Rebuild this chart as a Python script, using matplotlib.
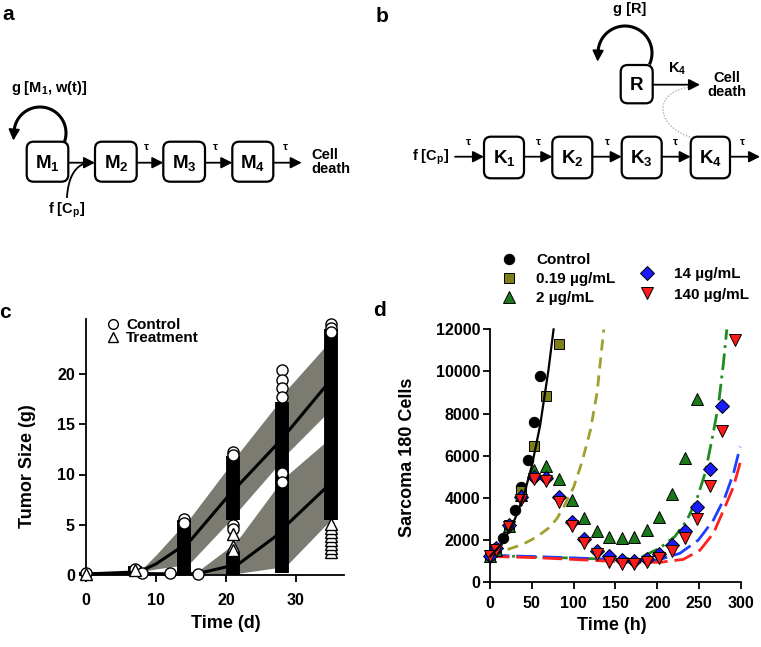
import numpy as np
import matplotlib
matplotlib.use('Agg')
import matplotlib.pyplot as plt
from matplotlib.patches import FancyBboxPatch
from matplotlib.lines import Line2D

plt.rcParams['font.family'] = ['Liberation Sans', 'DejaVu Sans']
plt.rcParams['font.weight'] = 'bold'
plt.rcParams['axes.labelweight'] = 'bold'
plt.rcParams['mathtext.fontset'] = 'custom'
plt.rcParams['mathtext.rm'] = 'Liberation Sans:bold'
plt.rcParams['mathtext.it'] = 'Liberation Sans:bold'
plt.rcParams['mathtext.bf'] = 'Liberation Sans:bold'

# ---------------- data: panel c ----------------
c_xticks = [0, 10, 20, 30]
c_yticks = [0, 5, 10, 15, 20]
ctrl_band_t = [7, 8, 10, 13, 15, 20, 22, 27, 29, 34, 35]
ctrl_med = [0.3, 0.45, 1.1, 2.5, 3.5, 7.6, 9.1, 12.8, 14.4, 18.6, 19.3]
ctrl_hi = [0.3, 0.6, 2.0, 4.3, 5.8, 10.4, 12.3, 16.7, 18.7, 22.6, 23.1]
ctrl_lo = [0.3, 0.35, 0.6, 0.9, 1.3, 5.0, 6.6, 10.6, 12.3, 15.8, 16.3]
ctrl_early_t = [0, 7]
ctrl_early_y = [0.1, 0.3]
trt_band_t = [14, 16, 20, 22, 27, 29, 34, 35]
trt_med = [0.1, 0.15, 0.8, 1.2, 3.8, 5.2, 8.5, 9.2]
trt_hi = [0.1, 0.4, 2.5, 3.8, 8.5, 10.1, 13.1, 13.8]
trt_lo = [0.1, 0.05, 0.1, 0.2, 0.7, 1.2, 4.8, 5.4]
trt_early_t = [0, 7, 14]
trt_early_y = [0.1, 0.15, 0.1]

col_days = [0, 7, 14, 21, 28, 35]
ctrl_col_lo = [0.0, 0.1, 0.1, 5.5, 9.5, 14.0]
ctrl_col_hi = [0.3, 0.9, 5.5, 11.8, 17.2, 24.5]
trt_col_lo = [0.0, 0.1, 0.0, 0.0, 0.2, 5.5]
trt_col_hi = [0.3, 0.8, 0.5, 2.2, 9.5, 14.0]
ctrl_out_t = [0, 7, 8, 12, 14, 14, 16, 21, 21, 21, 21, 28, 28, 28, 28, 28, 28, 35, 35, 35]
ctrl_out_y = [0.2, 0.6, 0.2, 0.2, 5.6, 5.2, 0.1, 12.2, 11.9, 5.0, 4.6, 20.4, 19.4, 18.6, 17.7, 10.1, 9.3, 25.0, 24.6, 24.2]
trt_out_t = [0, 7, 21, 21, 21, 35, 35, 35, 35, 35, 35, 35, 35]
trt_out_y = [0.1, 0.5, 4.1, 2.9, 2.5, 2.3, 2.7, 3.1, 3.5, 3.9, 4.3, 4.7, 5.1]

# ---------------- data: panel d ----------------
d_xticks = [0, 50, 100, 150, 200, 250, 300]
d_yticks = [0, 2000, 4000, 6000, 8000, 10000, 12000]
d_labels = ['Control', '0.19 \u00b5g/mL', '2 \u00b5g/mL', '14 \u00b5g/mL', '140 \u00b5g/mL']
ctrl_t = [0, 7.5, 15, 22.5, 30, 37.5, 45, 52.5, 60]
ctrl_y = [1200, 1600, 2100, 2650, 3400, 4500, 5800, 7600, 9800]
sq_t = [0, 7.5, 22.5, 37.5, 52.5, 67.5, 82.5]
sq_y = [1200, 1500, 2700, 4300, 6450, 8850, 11300]
tri_t = [0, 7.5, 22.5, 37.5, 52.5, 67.5, 82.5, 97.5, 112.5, 127.5, 142.5, 157.5,
         172.5, 187.5, 202.5, 217.5, 232.5, 247.5]
tri_y = [1200, 1500, 2650, 4100, 5300, 5500, 4870, 3890, 3015, 2420, 2140, 2060,
         2140, 2480, 3090, 4170, 5900, 8680]
dia_t = [0, 7.5, 22.5, 37.5, 52.5, 67.5, 82.5, 97.5, 112.5, 127.5, 142.5, 157.5,
         172.5, 187.5, 202.5, 217.5, 232.5, 247.5, 262.5, 277.5]
dia_y = [1200, 1600, 2700, 4050, 5000, 4950, 4040, 2860, 2030, 1480, 1200, 1050,
         1000, 1060, 1300, 1730, 2420, 3560, 5350, 8380]
inv_t = [0, 7.5, 22.5, 37.5, 52.5, 67.5, 82.5, 97.5, 112.5, 127.5, 142.5, 157.5,
         172.5, 187.5, 202.5, 217.5, 232.5, 247.5, 262.5, 277.5, 292.5]
inv_y = [1200, 1500, 2600, 3900, 4900, 4800, 3800, 2650, 1850, 1300, 950, 850,
         850, 920, 1110, 1450, 2070, 3000, 4550, 7150, 11500]
fit_ctrl_t = [0, 10, 20, 30, 40, 50, 60, 70, 76]
fit_ctrl_y = [1200, 1620, 2200, 3000, 4050, 5500, 7450, 10100, 12000]
fit_sq_t = [0, 10, 20, 30, 40, 50, 60, 70, 80, 90, 100, 110, 120, 128, 136]
fit_sq_y = [1350, 1420, 1520, 1650, 1800, 2000, 2250, 2550, 3000, 3700, 4500, 5700, 7200, 9000, 12000]
fit_tri_t = [0, 50, 100, 150, 180, 203, 221, 235, 247, 257, 265, 273, 279, 283]
fit_tri_y = [1250, 1180, 1120, 1060, 1150, 1600, 2150, 2900, 3900, 5150, 6700, 8400, 10400, 12000]
fit_dia_t = [0, 50, 100, 150, 200, 227, 249, 267, 281, 291, 299]
fit_dia_y = [1250, 1200, 1130, 1060, 1020, 1350, 1980, 2930, 4040, 5150, 6420]
fit_inv_t = [0, 50, 100, 150, 203, 231, 251, 267, 281, 291, 300]
fit_inv_y = [1200, 1150, 1060, 960, 920, 1060, 1500, 2300, 3570, 4520, 5800]

W, H = 761, 647
fig = plt.figure(figsize=(W / 100, H / 100), dpi=100)


def rect(x0, y0, x1, y1):
    return [x0 / W, 1 - y1 / H, (x1 - x0) / W, (y1 - y0) / H]


# ---------------- overlay for diagrams ----------------
ax0 = fig.add_axes([0, 0, 1, 1], zorder=0)
ax0.set_xlim(0, W)
ax0.set_ylim(H, 0)
ax0.axis('off')


def box(x0, y0, x1, y1, label):
    ax0.add_patch(FancyBboxPatch((x0, y0), x1 - x0, y1 - y0,
                                 boxstyle='round,pad=0,rounding_size=7',
                                 fc='white', ec='black', lw=1.6))
    ax0.text((x0 + x1) / 2, (y0 + y1) / 2 + 1, label, fontsize=13.5,
             ha='center', va='center', fontweight='bold')


def arrow(x0, y0, x1, y1):
    ax0.annotate('', xy=(x1, y1), xytext=(x0, y0),
                 arrowprops=dict(arrowstyle='-|>,head_length=0.55,head_width=0.28',
                                 lw=1.3, color='black', shrinkA=0, shrinkB=0,
                                 mutation_scale=12))


def loop(cx, cy, r, a0, a1):
    th = np.radians(np.linspace(a0, a1, 60))
    xs = cx + r * np.cos(th)
    ys = cy - r * np.sin(th)
    ax0.plot(xs[:-3], ys[:-3], color='black', lw=2.2, solid_capstyle='butt')
    arrow(xs[-5], ys[-5], xs[-1] - 1, ys[-1] + 3)


def tau(x, y):
    ax0.text(x, y, '\u03c4', fontsize=8, ha='center', va='center', fontweight='bold')


# panel a
ax0.text(8, 15, 'a', fontsize=15, ha='center', va='center', fontweight='bold')
ax0.text(49, 88, 'g [M$_1$, w(t)]', fontsize=10.5, ha='center', va='center')
loop(40, 133, 26, -22, 190)
a_boxes = [(26.7, 68.3, 'M$_1$'), (95, 136.7, 'M$_2$'), (163.3, 205, 'M$_3$'), (232.3, 273.3, 'M$_4$')]
for x0, x1, lab in a_boxes:
    box(x0, 141.7, x1, 181.7, lab)
arrow(68.3, 162.7, 95, 162.7)
arrow(136.7, 162.7, 163.3, 162.7)
arrow(205, 162.7, 232.3, 162.7)
arrow(273.3, 162.7, 301.7, 162.7)
for x in (146.7, 215, 285):
    tau(x, 147)
ax0.text(311, 162, 'Cell\ndeath', fontsize=10.5, ha='left', va='center', linespacing=1.0)
tt = np.linspace(0, 1, 40)
bx = (1 - tt) ** 2 * 67 + 2 * (1 - tt) * tt * 69 + tt ** 2 * 86
by = (1 - tt) ** 2 * 197 + 2 * (1 - tt) * tt * 168 + tt ** 2 * 163
ax0.plot(bx, by, color='black', lw=1.3)
ax0.text(67, 210, 'f [C$_p$]', fontsize=10.5, ha='center', va='center')

# panel b
ax0.text(382, 16, 'b', fontsize=15, ha='center', va='center', fontweight='bold')
ax0.text(630, 9, 'g [R]', fontsize=10.5, ha='center', va='center')
loop(625, 53, 27, -25, 192)
box(620.7, 65, 652.7, 103.3, 'R')
arrow(652.7, 84.7, 700, 84.7)
ax0.text(677, 69, 'K$_4$', fontsize=10.5, ha='center', va='center')
ax0.text(727, 85, 'Cell\ndeath', fontsize=10.5, ha='center', va='center', linespacing=1.0)
tt = np.linspace(0, 1, 50)
cxs = (1 - tt) ** 3 * 690 + 3 * (1 - tt) ** 2 * tt * 656 + 3 * (1 - tt) * tt ** 2 * 652 + tt ** 3 * 690
cys = (1 - tt) ** 3 * 137 + 3 * (1 - tt) ** 2 * tt * 126 + 3 * (1 - tt) * tt ** 2 * 92 + tt ** 3 * 87
ax0.plot(cxs, cys, color='#b0b0b0', lw=1.0, ls=(0, (1, 1.2)))
k_boxes = [(484, 524, 'K$_1$'), (552.3, 592.3, 'K$_2$'), (621.7, 661.7, 'K$_3$'), (690.7, 730, 'K$_4$')]
for x0, x1, lab in k_boxes:
    box(x0, 136.7, x1, 178.3, lab)
ax0.text(431, 157, 'f [C$_p$]', fontsize=10.5, ha='center', va='center')
arrow(455, 156.7, 484, 156.7)
arrow(524, 156.7, 552.3, 156.7)
arrow(592.3, 156.7, 621.7, 156.7)
arrow(661.7, 156.7, 690.7, 156.7)
arrow(730, 156.7, 760, 156.7)
for x in (468, 538, 607, 675, 742):
    tau(x, 142)

ax0.text(5, 312, 'c', fontsize=15, ha='center', va='center', fontweight='bold')
ax0.text(380, 311, 'd', fontsize=15, ha='center', va='center', fontweight='bold')

# ---------------- panel c ----------------
axc = fig.add_axes(rect(75.5, 313.7, 348.5, 585.05), zorder=1)
axc.patch.set_alpha(0)
axc.set_xlim(-1.5, 37.5)
axc.set_ylim(-1.0, 26.0)
band_col = '#7b7b72'
axc.fill_between(ctrl_band_t, ctrl_lo, ctrl_hi, color=band_col, lw=0, zorder=1)
axc.fill_between(trt_band_t, trt_lo, trt_hi, color=band_col, lw=0, zorder=1)
axc.plot(ctrl_early_t + ctrl_band_t, ctrl_early_y + ctrl_med, color='black', lw=2.2, zorder=2)
axc.plot(trt_early_t + trt_band_t[1:], trt_early_y + trt_med[1:], color='black', lw=2.2, zorder=2)
axc.vlines(col_days, ctrl_col_lo, ctrl_col_hi, color='black', lw=10, zorder=3)
axc.vlines(col_days, trt_col_lo, trt_col_hi, color='black', lw=10, zorder=3)
axc.plot(ctrl_out_t, ctrl_out_y, ls='none', marker='o', ms=8, mfc='white', mec='black', mew=1.0, zorder=4)
axc.plot(trt_out_t, trt_out_y, ls='none', marker='^', ms=8, mfc='white', mec='black', mew=1.0, zorder=4)
for s in ('top', 'right'):
    axc.spines[s].set_visible(False)
axc.spines['left'].set_position(('data', 0))
axc.spines['bottom'].set_position(('data', 0))
axc.spines['left'].set_bounds(0, 25.5)
axc.spines['bottom'].set_bounds(0, 36.8)
for s in ('left', 'bottom'):
    axc.spines[s].set_linewidth(1.3)
axc.set_xticks(c_xticks)
axc.set_yticks(c_yticks)
axc.tick_params(direction='out', length=5, width=1.3, labelsize=11.5)
axc.tick_params(axis='x', pad=8)
axc.tick_params(axis='y', pad=3)
for lab in axc.get_xticklabels() + axc.get_yticklabels():
    lab.set_fontweight('bold')
axc.set_xlabel('Time (d)', fontsize=13, fontweight='bold')
axc.xaxis.set_label_coords(226 / W, 1 - 624 / H, transform=fig.transFigure)
axc.xaxis.label.set_va('center')
axc.set_ylabel('Tumor Size (g)', fontsize=13, fontweight='bold')
axc.yaxis.set_label_coords(27 / W, 1 - 466 / H, transform=fig.transFigure)
axc.yaxis.label.set_va('center')
hc = [Line2D([], [], ls='none', marker='o', ms=7, mfc='white', mec='black', mew=1.0),
      Line2D([], [], ls='none', marker='^', ms=7, mfc='white', mec='black', mew=1.0)]
axc.legend(hc, ['Control', 'Treatment'], loc='upper left',
           bbox_to_anchor=(107 / W, 1 - 318 / H), bbox_transform=fig.transFigure,
           frameon=False, prop={'size': 11, 'weight': 'bold'}, handlelength=0.8,
           handletextpad=0.45, labelspacing=-0.05, borderpad=0, borderaxespad=0)

# ---------------- panel d ----------------
axd = fig.add_axes(rect(481.6, 323.1, 745.2, 590.1), zorder=1)
axd.patch.set_alpha(0)
axd.set_xlim(-10, 305)
axd.set_ylim(-400, 12300)
c_olive_m, c_green_m, c_blue_m, c_red_m = '#7f7f1a', '#1a7a1a', '#1a1aff', '#ff1a1a'
axd.plot(fit_sq_t, fit_sq_y, color='#a0a030', lw=2, ls=(0, (4, 2.5)), zorder=3)
axd.plot(fit_tri_t, fit_tri_y, color='#1e8c1e', lw=2, ls=(0, (6, 2, 1, 2)), zorder=3)
axd.plot(fit_dia_t, fit_dia_y, color='#2040ff', lw=2, ls=(0, (7, 2.5)), zorder=3)
axd.plot(fit_inv_t, fit_inv_y, color='#ff2020', lw=2, ls=(0, (7, 2.5)), zorder=3)
mk = dict(ls='none', mec='black', mew=0.7, zorder=4)
h1, = axd.plot(ctrl_t, ctrl_y, marker='o', ms=7.5, mfc='black', **mk)
h2, = axd.plot(sq_t, sq_y, marker='s', ms=7, mfc=c_olive_m, **mk)
h3, = axd.plot(tri_t, tri_y, marker='^', ms=8.5, mfc=c_green_m, **mk)
h4, = axd.plot(dia_t, dia_y, marker='D', ms=7, mfc=c_blue_m, **mk)
h5, = axd.plot(inv_t, inv_y, marker='v', ms=8.5, mfc=c_red_m, **mk)
axd.plot(fit_ctrl_t, fit_ctrl_y, color='black', lw=1.6, zorder=5)
for s in ('top', 'right'):
    axd.spines[s].set_visible(False)
axd.spines['left'].set_position(('data', 0))
axd.spines['bottom'].set_position(('data', 0))
axd.spines['left'].set_bounds(0, 12000)
axd.spines['bottom'].set_bounds(0, 300)
for s in ('left', 'bottom'):
    axd.spines[s].set_linewidth(1.3)
axd.set_xticks(d_xticks)
axd.set_yticks(d_yticks)
axd.tick_params(direction='out', length=5, width=1.3, labelsize=11.5)
axd.tick_params(axis='x', pad=5)
axd.tick_params(axis='y', pad=2)
for lab in axd.get_xticklabels() + axd.get_yticklabels():
    lab.set_fontweight('bold')
axd.set_xlabel('Time (h)', fontsize=13, fontweight='bold')
axd.xaxis.set_label_coords(612 / W, 1 - 625 / H, transform=fig.transFigure)
axd.xaxis.label.set_va('center')
axd.set_ylabel('Sarcoma 180 Cells', fontsize=13, fontweight='bold')
axd.yaxis.set_label_coords(408 / W, 1 - 457 / H, transform=fig.transFigure)
axd.yaxis.label.set_va('center')
leg1 = axd.legend([h1, h2, h3], d_labels[:3], loc='upper left',
                  bbox_to_anchor=(501 / W, 1 - 253 / H), bbox_transform=fig.transFigure,
                  frameon=False, prop={'size': 11, 'weight': 'bold'}, handlelength=1.0,
                  handletextpad=1.3, labelspacing=0.34, borderpad=0, borderaxespad=0)
axd.add_artist(leg1)
axd.legend([h4, h5], d_labels[3:], loc='upper left',
           bbox_to_anchor=(639 / W, 1 - 267 / H), bbox_transform=fig.transFigure,
           frameon=False, prop={'size': 11, 'weight': 'bold'}, handlelength=1.0,
           handletextpad=1.3, labelspacing=0.44, borderpad=0, borderaxespad=0)

fig.savefig('out.png', dpi=100)
